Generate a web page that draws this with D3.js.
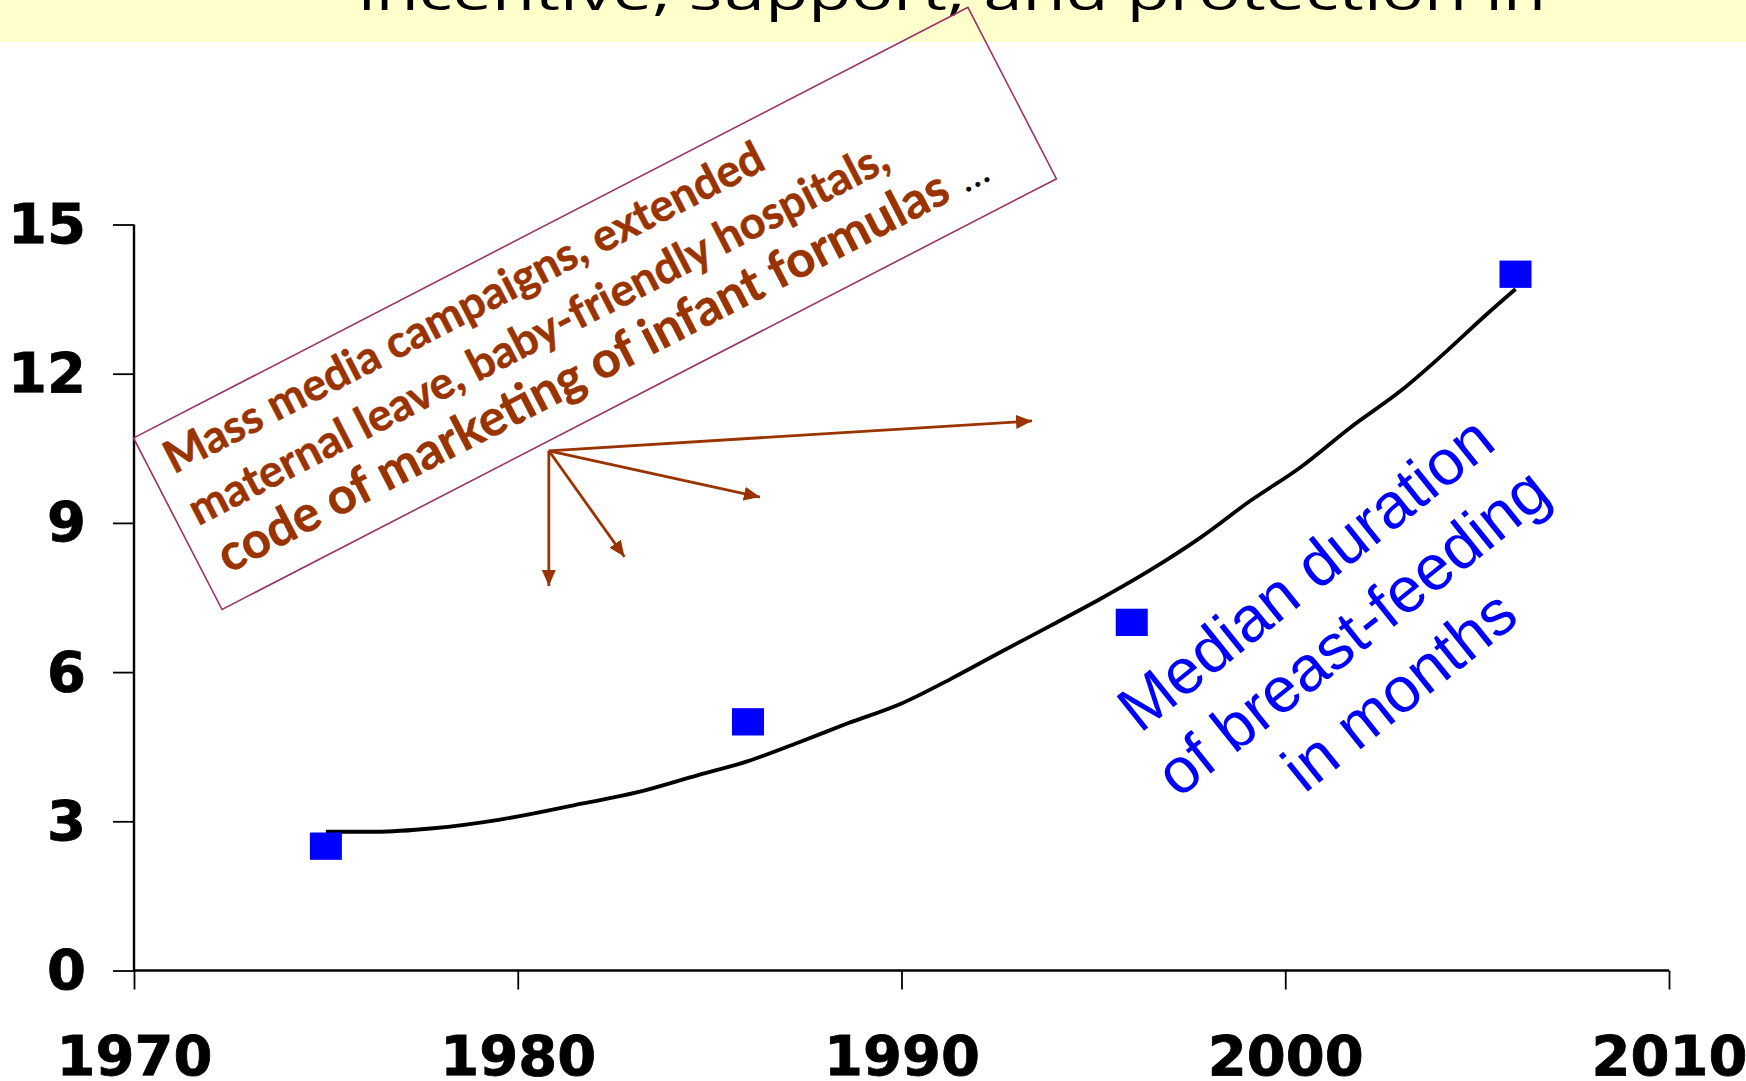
<!DOCTYPE html>
<html>
<head>
<meta charset="utf-8">
<script src="https://cdn.jsdelivr.net/npm/d3@7/dist/d3.min.js"></script>
<style>
  html, body { margin: 0; padding: 0; background: #ffffff; }
  svg { display: block; }
</style>
</head>
<body>
<svg id="chart" width="1746" height="1081"></svg>
<script>
// ---------- data ----------
const yearTicks = [1970, 1980, 1990, 2000, 2010];
const monthTicks = [0, 3, 6, 9, 12, 15];

const surveyYears  = [1975, 1986, 1996, 2006];
const medianMonths = [2.5, 5, 7, 14];

const trendYears  = [1975.0, 1976.3, 1977.8, 1979.5, 1981.7, 1983.1, 1984.7, 1986.0,
                     1987.3, 1988.6, 1990.0, 1991.3, 1992.6, 1993.9, 1995.2, 1996.5,
                     1997.8, 1999.1, 2000.4, 2001.7, 2003.0, 2004.3, 2005.2, 2006.0];
const trendMonths = [2.79, 2.79, 2.86, 3.03, 3.36, 3.58, 3.93, 4.21,
                     4.58, 4.97, 5.37, 5.87, 6.41, 6.94, 7.48, 8.06,
                     8.71, 9.45, 10.12, 10.92, 11.65, 12.52, 13.16, 13.70];

const titleText = "incentive, support, and protection in";
const boxLines = ["Mass media campaigns, extended",
                  "maternal leave, baby-friendly hospitals,",
                  "code of marketing of infant formulas"];
const seriesLabel = ["Median duration", "of breast-feeding", "in months"];

// arrows: origin and tips in data units (year, months)
const arrowOrigin = [1980.81, 10.45];
const arrowTips = [[1980.81, 7.73], [1982.78, 8.32], [1986.31, 9.52], [1993.40, 11.05]];

// ---------- layout ----------
const svg = d3.select("#chart");
const x = d3.scaleLinear().domain([1970, 2010]).range([134, 1669]);
const y = d3.scaleLinear().domain([0, 15]).range([970.5, 224.5]);

// title band
svg.append("rect").attr("x", 0).attr("y", 0).attr("width", 1746).attr("height", 42)
  .attr("fill", "#FFFFCC");
svg.append("text")
  .attr("x", 358).attr("y", 10)
  .attr("textLength", 1188).attr("lengthAdjust", "spacingAndGlyphs")
  .attr("font-family", "'Open Sans', sans-serif")
  .attr("font-size", 50)
  .attr("font-weight", 500)
  .attr("fill", "#000")
  .text(titleText);

// axes
const yAxis = d3.axisLeft(y).tickValues(monthTicks).tickSize(21).tickPadding(27)
  .tickFormat(d3.format("d"));
const xAxis = d3.axisBottom(x).tickValues(yearTicks).tickSize(19).tickPadding(46)
  .tickFormat(d3.format("d"));

const gy = svg.append("g").attr("transform", `translate(${x(1970)},0)`).call(yAxis);
const gx = svg.append("g").attr("transform", `translate(0,${y(0)})`).call(xAxis);

[gx, gy].forEach(g => {
  g.select(".domain").attr("stroke", "#000").attr("stroke-width", 2.4);
  g.selectAll(".tick line").attr("stroke", "#000").attr("stroke-width", 1.8);
  g.selectAll(".tick text")
    .attr("fill", "#000")
    .attr("font-family", "'DejaVu Sans', sans-serif")
    .attr("font-weight", "bold")
    .attr("font-size", 56)
    .attr("stroke", "#000").attr("stroke-width", 0.8);
});
gx.select(".domain").attr("d", `M${x(1970)},0H${x(2010)}`);
gy.select(".domain").attr("d", `M0,${y(15)}V${y(0)}`);

// trend curve
const line = d3.line()
  .x((d, i) => x(trendYears[i]))
  .y((d, i) => y(trendMonths[i]))
  .curve(d3.curveMonotoneX);
svg.append("path")
  .datum(trendMonths)
  .attr("d", line)
  .attr("fill", "none")
  .attr("stroke", "#000")
  .attr("stroke-width", 3.8)
  .attr("stroke-linejoin", "round");

// survey points (square markers)
const mw = 32, mh = 27.3;
svg.selectAll("rect.pt")
  .data(surveyYears.map((yr, i) => ({ yr, v: medianMonths[i] })))
  .enter().append("rect")
  .attr("class", "pt")
  .attr("x", d => x(d.yr) - mw / 2)
  .attr("y", d => y(d.v) - mh / 2)
  .attr("width", mw).attr("height", mh)
  .attr("fill", "#0000FF");

// series label (rotated)
const lbl = svg.append("g")
  .attr("transform", "translate(1366,649) rotate(-38.7)");
lbl.selectAll("text").data(seriesLabel).enter().append("text")
  .attr("x", 0)
  .attr("y", (d, i) => (i - 1) * 75)
  .attr("text-anchor", "middle")
  .attr("font-family", "'Liberation Sans', Arial, sans-serif")
  .attr("font-size", 64)
  .attr("fill", "#0000FF")
  .text(d => d);

// annotation box (rotated)
const boxAngle = -27.3, boxW = 939, boxH = 193;
const box = svg.append("g")
  .attr("transform", `translate(${x(1970) - 0.5},438) rotate(${boxAngle})`);
box.append("rect")
  .attr("x", 0).attr("y", 0).attr("width", boxW).attr("height", boxH)
  .attr("fill", "none").attr("stroke", "#993366").attr("stroke-width", 1.6);
const boxSizes = [45, 45, 50.5];
const boxBase = [51, 108, 164];
const boxX = [19, 17, 22];
boxLines.forEach((t, i) => {
  const tx = box.append("text")
    .attr("x", boxX[i]).attr("y", boxBase[i])
    .attr("font-family", "Lato, 'Open Sans', sans-serif")
    .attr("font-weight", "bold")
    .attr("font-size", boxSizes[i])
    .attr("fill", "#993300")
    .attr("stroke", "#993300").attr("stroke-width", 0.5);
  tx.append("tspan").text(t);
  if (i === 2) {
    tx.append("tspan").attr("fill", "#000").attr("stroke", "none")
      .attr("font-weight", "normal")
      .attr("font-size", 40).attr("dx", 14).text("\u2026");
  }
});

// arrows
const defs = svg.append("defs");
defs.append("marker")
  .attr("id", "ah").attr("viewBox", "0 0 16 14")
  .attr("refX", 16).attr("refY", 7)
  .attr("markerWidth", 16).attr("markerHeight", 14)
  .attr("markerUnits", "userSpaceOnUse")
  .attr("orient", "auto")
  .append("path").attr("d", "M0,0L16,7L0,14Z").attr("fill", "#993300");

svg.selectAll("line.arrow").data(arrowTips).enter().append("line")
  .attr("class", "arrow")
  .attr("x1", x(arrowOrigin[0])).attr("y1", y(arrowOrigin[1]))
  .attr("x2", d => x(d[0])).attr("y2", d => y(d[1]))
  .attr("stroke", "#993300").attr("stroke-width", 2.8)
  .attr("marker-end", "url(#ah)");
</script>
</body>
</html>
